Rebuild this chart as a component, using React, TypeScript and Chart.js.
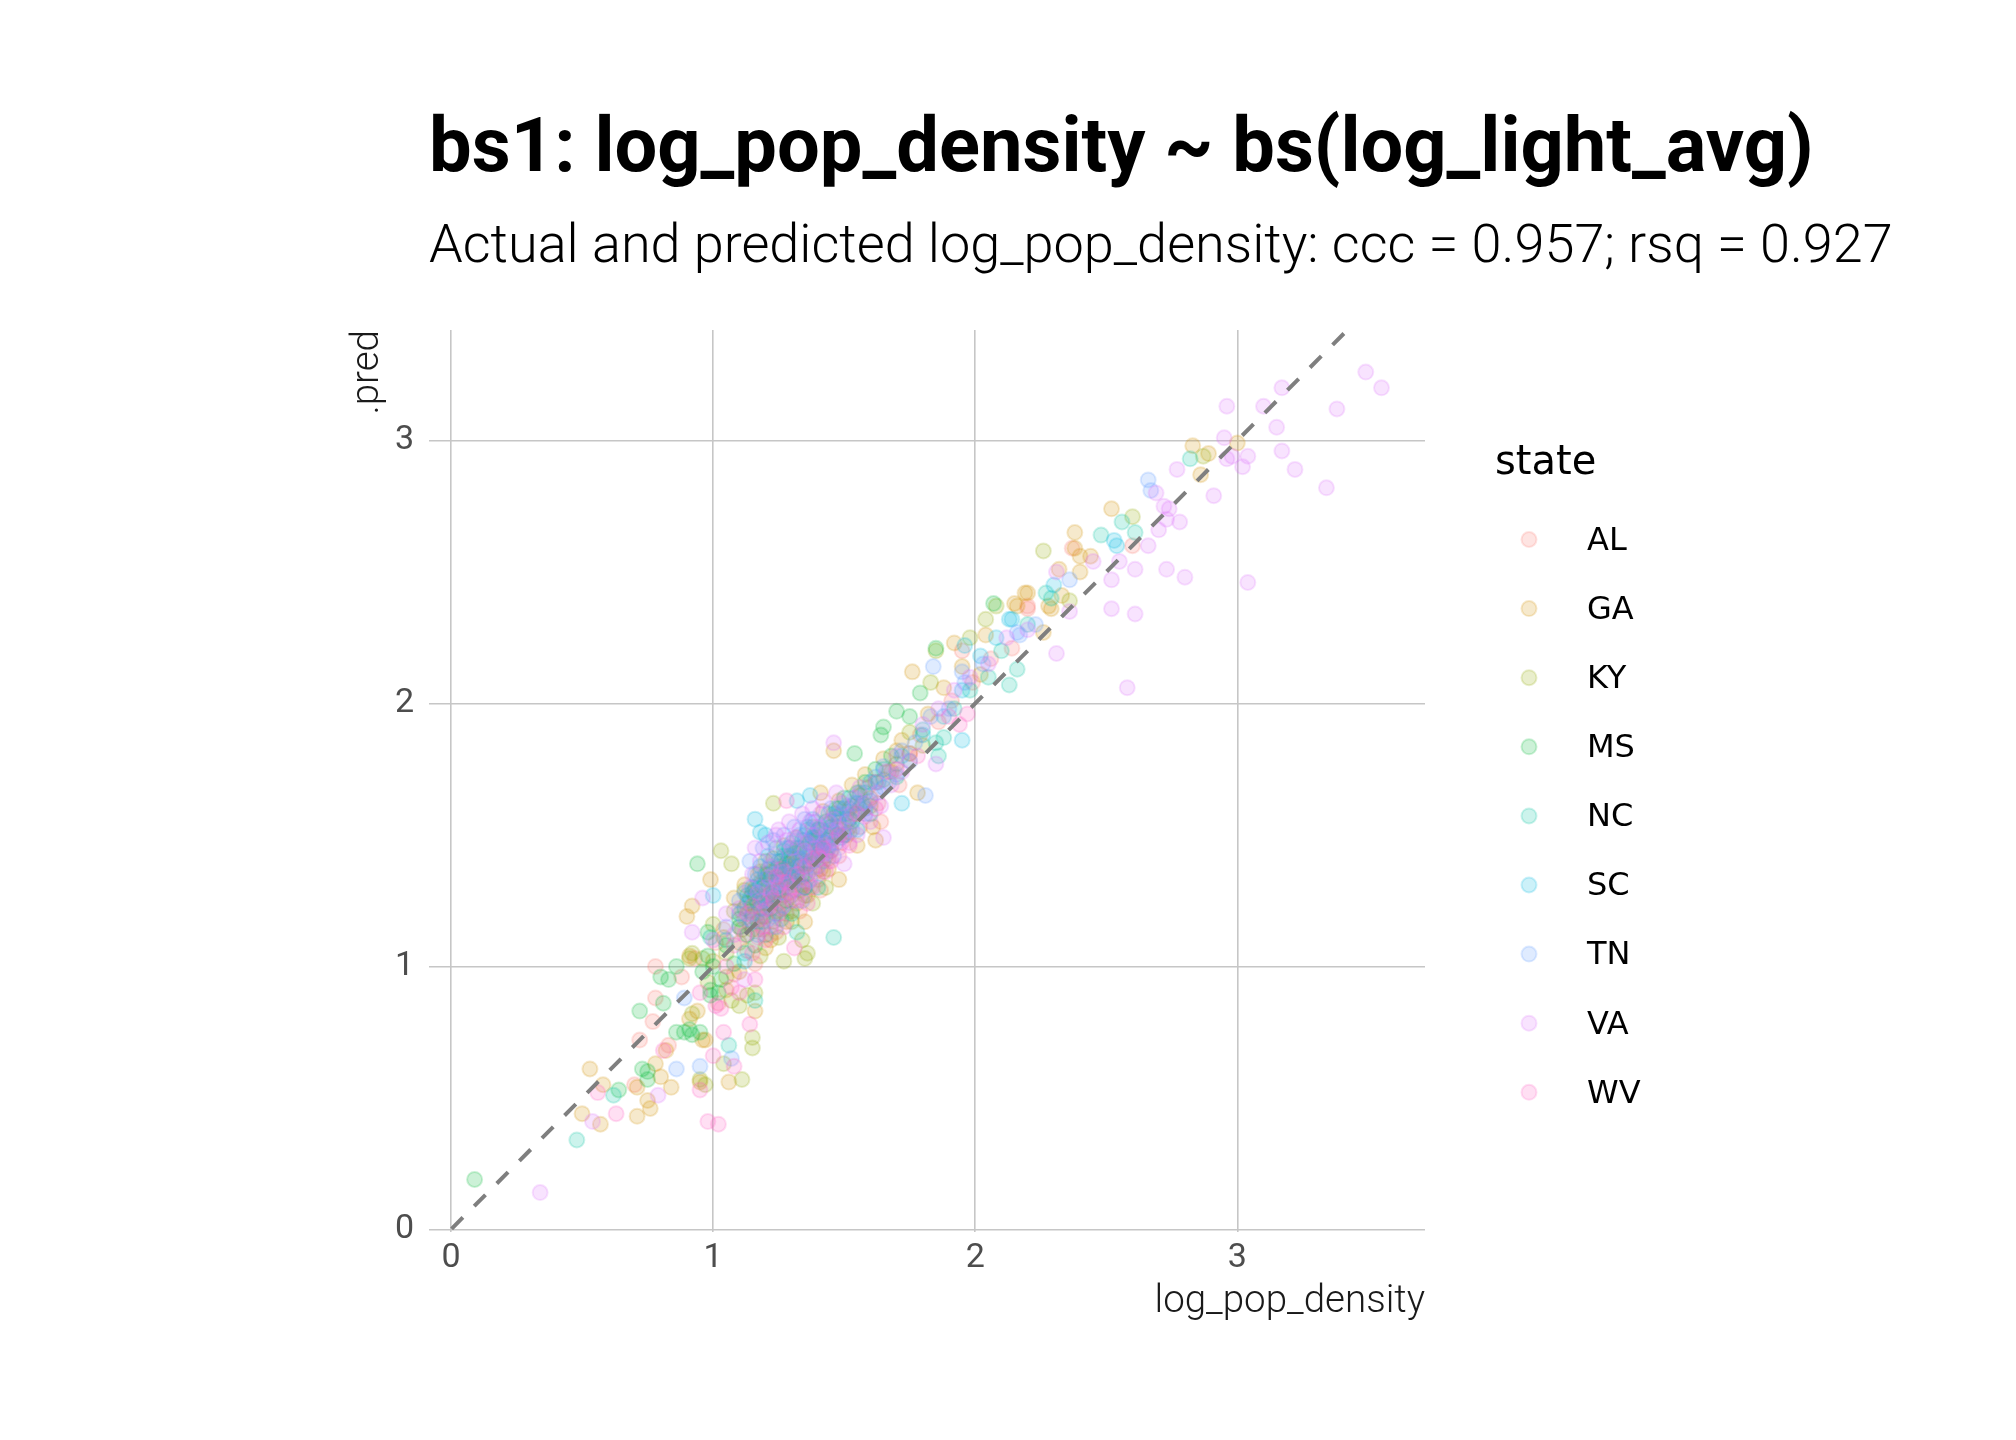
import React, { useEffect, useRef } from "react";
import { Chart, registerables } from "chart.js";

Chart.register(...registerables);

// ---------------- data ----------------
const titleText = "bs1: log_pop_density ~ bs(log_light_avg)";
const subtitleText = "Actual and predicted log_pop_density: ccc = 0.957; rsq = 0.927";
const xAxisTitle = "log_pop_density";
const yAxisTitle = ".pred";
const legendTitle = "state";

const states = ["AL", "GA", "KY", "MS", "NC", "SC", "TN", "VA", "WV"];
const stateColors = ["#F8766D", "#D39200", "#93AA00", "#00BA38", "#00C19F", "#00B9E3", "#619CFF", "#DB72FB", "#FF61C3"];

const xTicks = [0, 1, 2, 3];
const yTicks = [0, 1, 2, 3];
const xLimits = [-0.084, 3.716];
const yLimits = [-0.01, 3.42];
const refLine = [[-0.084, -0.084], [3.72, 3.72]];

// [actual, predicted]
const alPoints = [
  [0.70, 0.55], [0.83, 0.70], [0.72, 0.72], [0.77, 0.79], [0.78, 0.88], [0.78, 1.00], [1.02, 0.86], [1.95, 2.20],
  [2.20, 2.37], [1.64, 1.55], [2.60, 2.60], [2.37, 2.59], [2.20, 2.36], [2.14, 2.21],
  [0.88, 0.96], [0.93, 1.03], [1.01, 1.09], [1.04, 1.14], [1.08, 0.97], [1.11, 1.21], [1.13, 1.06], [1.16, 1.27],
  [1.19, 1.14], [1.21, 1.31], [1.23, 1.19], [1.26, 1.36], [1.27, 1.27], [1.31, 1.41], [1.34, 1.31], [1.36, 1.47],
  [1.39, 1.36], [1.41, 1.52], [1.44, 1.41], [1.47, 1.57], [1.49, 1.47], [1.53, 1.61], [1.56, 1.53], [1.59, 1.68],
  [1.63, 1.62], [1.67, 1.74], [1.71, 1.69], [1.75, 1.81], [1.79, 1.88], [1.86, 1.93], [1.91, 2.01], [1.99, 2.08],
  [2.06, 2.17], [1.16, 1.01], [1.24, 1.13], [1.33, 1.21], [1.41, 1.29],
  [1.14, 1.16], [1.18, 1.24], [1.22, 1.12], [1.29, 1.33], [1.33, 1.44], [1.37, 1.30], [1.42, 1.47], [1.48, 1.42],
  [1.52, 1.53], [1.26, 1.26],
  [1.17, 1.20], [1.21, 1.35], [1.25, 1.28], [1.30, 1.37], [1.35, 1.40], [1.40, 1.33], [1.45, 1.46], [1.28, 1.20],
];
const gaPoints = [
  [0.50, 0.44], [0.57, 0.40], [0.53, 0.61], [0.58, 0.55], [0.71, 0.43], [0.71, 0.54], [0.76, 0.46], [0.75, 0.49],
  [0.78, 0.63], [0.80, 0.58], [0.82, 0.68], [0.84, 0.54], [0.91, 0.80], [0.96, 0.72], [0.94, 0.83], [0.91, 1.04],
  [0.95, 0.56], [1.06, 0.56], [1.16, 0.83], [0.99, 1.33], [0.92, 1.23], [0.90, 1.19], [0.97, 0.72], [1.35, 1.17],
  [1.41, 1.66], [1.78, 1.66], [1.48, 1.33], [1.62, 1.48], [1.76, 2.12], [1.92, 2.23], [2.04, 2.26], [2.15, 2.38],
  [2.19, 2.42], [2.28, 2.37], [1.46, 1.82], [1.61, 1.53], [3.00, 2.99], [2.83, 2.98], [2.89, 2.95], [2.86, 2.87],
  [2.52, 2.74], [2.38, 2.65], [2.38, 2.59], [2.40, 2.56], [2.44, 2.56], [2.32, 2.51], [2.40, 2.50], [2.33, 2.41],
  [2.20, 2.42], [2.16, 2.37], [2.29, 2.36], [2.26, 2.27],
  [1.00, 1.02], [1.04, 1.11], [1.08, 1.26], [1.10, 1.15], [1.12, 1.31], [1.15, 1.19], [1.18, 1.36], [1.20, 1.24],
  [1.23, 1.41], [1.25, 1.29], [1.27, 1.46], [1.30, 1.34], [1.32, 1.49], [1.35, 1.39], [1.38, 1.53], [1.40, 1.44],
  [1.42, 1.59], [1.45, 1.49], [1.48, 1.63], [1.50, 1.54], [1.53, 1.69], [1.55, 1.59], [1.58, 1.73], [1.60, 1.64],
  [1.65, 1.79], [1.68, 1.74], [1.72, 1.86], [1.75, 1.81], [1.82, 1.96], [1.88, 2.06], [1.95, 2.14], [2.02, 2.11],
  [1.20, 1.07], [1.28, 1.17], [1.36, 1.27], [1.44, 1.37], [1.55, 1.46], [1.10, 0.98], [1.05, 0.91],
  [1.13, 1.24], [1.17, 1.14], [1.21, 1.33], [1.24, 1.21], [1.29, 1.39], [1.33, 1.29], [1.37, 1.47], [1.41, 1.37],
  [1.46, 1.58], [1.51, 1.50], [1.57, 1.62], [1.62, 1.70], [1.70, 1.82], [1.22, 1.10], [1.32, 1.24],
  [1.16, 1.30], [1.19, 1.19], [1.26, 1.33], [1.31, 1.43], [1.34, 1.34], [1.39, 1.48], [1.43, 1.42], [1.47, 1.53],
  [1.52, 1.60], [1.27, 1.22],
];
const kyPoints = [
  [0.92, 0.82], [0.91, 1.03], [0.96, 1.03], [0.95, 0.57], [0.97, 0.55], [1.04, 0.63], [1.11, 0.57], [1.15, 0.73],
  [1.15, 0.69], [1.13, 0.89], [1.07, 0.87], [1.23, 1.62], [1.03, 1.44], [1.07, 1.39], [0.92, 1.05], [1.10, 0.85],
  [1.16, 0.90], [1.35, 1.03], [1.36, 1.05], [1.27, 1.02], [1.34, 1.10], [1.30, 1.17], [1.43, 1.30], [1.85, 2.20],
  [1.83, 2.08], [1.98, 2.25], [2.04, 2.32], [2.08, 2.37], [2.26, 2.58], [2.60, 2.71], [2.36, 2.39], [2.87, 2.94],
  [1.00, 1.16], [1.05, 1.05], [1.08, 1.21], [1.10, 1.09], [1.12, 1.29], [1.15, 1.14], [1.18, 1.31], [1.20, 1.19],
  [1.22, 1.36], [1.25, 1.24], [1.28, 1.39], [1.30, 1.27], [1.33, 1.43], [1.36, 1.35], [1.40, 1.49], [1.45, 1.44],
  [1.48, 1.57], [1.52, 1.51], [1.56, 1.65], [1.60, 1.61], [1.65, 1.71], [1.70, 1.77], [1.75, 1.89], [1.80, 1.84],
  [1.18, 1.04], [1.25, 1.11], [1.30, 1.21], [1.38, 1.24], [0.98, 0.94], [1.05, 0.96],
  [1.14, 1.21], [1.19, 1.26], [1.23, 1.17], [1.27, 1.33], [1.32, 1.36], [1.35, 1.27], [1.39, 1.41], [1.42, 1.36],
  [1.47, 1.50], [1.54, 1.58], [1.11, 1.14], [1.20, 1.40],
  [1.17, 1.35], [1.21, 1.24], [1.26, 1.29], [1.31, 1.31], [1.37, 1.39], [1.41, 1.45], [1.29, 1.42], [1.16, 1.26],
];
const msPoints = [
  [0.09, 0.19], [0.64, 0.53], [0.75, 0.60], [0.75, 0.57], [0.73, 0.61], [0.72, 0.83], [0.81, 0.86], [0.80, 0.96],
  [0.83, 0.95], [0.86, 1.00], [0.86, 0.75], [0.89, 0.75], [0.92, 0.74], [0.99, 0.91], [0.99, 0.89], [0.94, 1.39],
  [0.98, 1.13], [0.98, 1.04], [0.91, 0.76], [0.95, 0.75], [2.07, 2.38], [1.79, 2.04], [1.64, 1.88], [1.65, 1.91],
  [1.70, 1.97], [1.54, 1.81], [1.85, 2.21],
  [1.00, 1.00], [1.03, 0.95], [1.05, 1.08], [1.08, 1.01], [1.10, 1.18], [1.13, 1.12], [1.15, 1.28], [1.18, 1.22],
  [1.20, 1.35], [1.23, 1.28], [1.26, 1.40], [1.30, 1.32], [1.33, 1.45], [1.37, 1.40], [1.40, 1.52], [1.44, 1.48],
  [1.48, 1.60], [1.52, 1.56], [1.58, 1.70], [1.62, 1.75], [1.68, 1.80], [1.75, 1.95], [1.02, 0.90], [0.96, 0.98],
  [1.12, 1.22], [1.17, 1.17], [1.21, 1.27], [1.25, 1.34], [1.28, 1.25], [1.32, 1.38], [1.35, 1.30], [1.39, 1.45],
  [1.43, 1.55], [1.50, 1.64], [1.55, 1.66], [1.16, 1.08],
  [1.14, 1.26], [1.19, 1.30], [1.24, 1.37], [1.29, 1.41], [1.34, 1.35], [1.38, 1.49], [1.45, 1.53], [1.22, 1.22],
];
const ncPoints = [
  [0.48, 0.34], [0.62, 0.51], [1.06, 0.70], [0.99, 1.11], [1.46, 1.11], [1.32, 1.13], [1.16, 0.87], [2.27, 2.42],
  [2.13, 2.07], [1.88, 1.87], [1.86, 1.80], [2.82, 2.93], [2.56, 2.69], [2.61, 2.65], [2.48, 2.64], [2.29, 2.40],
  [2.16, 2.13],
  [1.05, 1.10], [1.10, 1.15], [1.15, 1.20], [1.18, 1.32], [1.22, 1.25], [1.25, 1.38], [1.28, 1.30], [1.32, 1.45],
  [1.35, 1.35], [1.38, 1.48], [1.42, 1.40], [1.45, 1.55], [1.50, 1.50], [1.55, 1.62], [1.60, 1.58], [1.65, 1.75],
  [1.70, 1.72], [1.75, 1.78], [1.80, 1.90], [1.85, 1.85], [1.92, 1.98], [1.98, 2.05], [2.05, 2.10], [2.10, 2.20],
  [2.20, 2.30], [1.12, 1.05], [1.20, 1.12], [1.30, 1.20], [1.40, 1.30],
  [1.13, 1.27], [1.17, 1.24], [1.21, 1.37], [1.24, 1.30], [1.27, 1.42], [1.31, 1.33], [1.34, 1.48], [1.37, 1.42],
  [1.41, 1.53], [1.44, 1.46], [1.47, 1.60], [1.53, 1.55], [1.58, 1.66], [1.63, 1.70], [1.26, 1.18],
  [1.16, 1.29], [1.20, 1.33], [1.24, 1.45], [1.28, 1.37], [1.33, 1.41], [1.36, 1.52], [1.40, 1.47], [1.46, 1.51],
  [1.51, 1.58], [1.56, 1.60], [1.29, 1.45], [1.19, 1.17],
];
const scPoints = [
  [1.32, 1.63], [1.37, 1.65], [1.16, 1.56], [1.18, 1.51], [1.20, 1.50], [1.00, 1.27], [1.72, 1.62], [1.96, 2.22],
  [2.13, 2.32], [1.95, 1.86], [2.53, 2.62], [2.54, 2.60], [2.30, 2.45], [2.14, 2.32],
  [1.10, 1.20], [1.15, 1.30], [1.20, 1.25], [1.25, 1.40], [1.30, 1.35], [1.35, 1.50], [1.40, 1.42], [1.45, 1.52],
  [1.50, 1.60], [1.55, 1.52], [1.60, 1.70], [1.65, 1.68], [1.72, 1.80], [1.80, 1.88], [1.88, 1.95], [1.95, 2.05],
  [2.02, 2.18], [2.08, 2.25], [1.12, 1.02],
  [1.14, 1.25], [1.22, 1.33], [1.27, 1.44], [1.33, 1.38], [1.38, 1.56], [1.43, 1.47], [1.48, 1.55], [1.52, 1.64],
  [1.58, 1.60], [1.24, 1.20], [1.35, 1.30], [1.18, 1.38],
  [1.17, 1.33], [1.21, 1.42], [1.26, 1.35], [1.30, 1.47], [1.34, 1.42], [1.39, 1.49], [1.44, 1.58], [1.49, 1.49],
  [1.29, 1.38], [1.41, 1.45], [1.23, 1.27], [1.36, 1.53],
];
const tnPoints = [
  [0.86, 0.61], [0.89, 0.88], [0.95, 0.62], [1.07, 0.65], [1.81, 1.65], [1.84, 2.14], [2.17, 2.26], [2.66, 2.85],
  [2.67, 2.81], [2.36, 2.47], [2.16, 2.27], [2.23, 2.30],
  [1.05, 1.15], [1.10, 1.25], [1.14, 1.18], [1.18, 1.30], [1.20, 1.22], [1.23, 1.35], [1.26, 1.28], [1.29, 1.42],
  [1.32, 1.35], [1.35, 1.48], [1.38, 1.40], [1.41, 1.52], [1.44, 1.45], [1.47, 1.58], [1.50, 1.50], [1.54, 1.62],
  [1.58, 1.58], [1.62, 1.72], [1.67, 1.70], [1.72, 1.82], [1.77, 1.85], [1.83, 1.95], [1.90, 1.98], [1.96, 2.08],
  [2.03, 2.15], [1.95, 2.12], [1.24, 1.15], [1.34, 1.25],
  [1.12, 1.28], [1.16, 1.35], [1.19, 1.26], [1.22, 1.40], [1.25, 1.32], [1.28, 1.45], [1.30, 1.36], [1.33, 1.50],
  [1.36, 1.42], [1.39, 1.55], [1.42, 1.47], [1.45, 1.60], [1.48, 1.53], [1.52, 1.57], [1.56, 1.66], [1.60, 1.63],
  [1.65, 1.76], [1.70, 1.73], [1.21, 1.18], [1.27, 1.23], [1.31, 1.29], [1.37, 1.33], [1.40, 1.38], [1.17, 1.12],
  [1.46, 1.42],
  [1.14, 1.40], [1.19, 1.45], [1.23, 1.48], [1.27, 1.50], [1.31, 1.53], [1.35, 1.56], [1.38, 1.46], [1.41, 1.44],
  [1.44, 1.52], [1.49, 1.58], [1.53, 1.52], [1.57, 1.62], [1.62, 1.66], [1.26, 1.36], [1.29, 1.32], [1.33, 1.41],
  [1.36, 1.38], [1.39, 1.50], [1.43, 1.43], [1.23, 1.30], [1.18, 1.22], [1.15, 1.17], [1.47, 1.47], [1.51, 1.61],
  [1.34, 1.44],
];
const vaPoints = [
  [0.34, 0.14], [0.54, 0.41], [0.79, 0.51], [0.96, 1.26], [0.92, 1.13], [1.24, 1.50], [1.50, 1.39], [1.65, 1.49],
  [1.46, 1.85], [1.85, 1.77], [2.36, 2.35], [2.31, 2.19], [2.58, 2.06], [2.96, 3.13], [3.10, 3.13], [3.17, 3.20],
  [3.15, 3.05], [3.17, 2.96], [3.22, 2.89], [2.95, 3.01], [2.96, 2.93], [2.98, 2.94], [3.04, 2.94], [3.02, 2.90],
  [2.77, 2.89], [2.91, 2.79], [2.69, 2.80], [2.72, 2.75], [2.74, 2.74], [2.73, 2.70], [2.78, 2.69], [2.70, 2.66],
  [2.66, 2.60], [2.61, 2.51], [2.73, 2.51], [2.80, 2.48], [3.04, 2.46], [2.55, 2.54], [2.52, 2.47], [2.52, 2.36],
  [2.61, 2.34], [2.45, 2.54], [2.31, 2.50], [3.49, 3.26], [3.55, 3.20], [3.38, 3.12], [3.34, 2.82],
  [1.00, 1.10], [1.05, 1.20], [1.10, 1.22], [1.14, 1.30], [1.18, 1.25], [1.22, 1.38], [1.26, 1.32], [1.30, 1.45],
  [1.34, 1.38], [1.38, 1.50], [1.42, 1.46], [1.46, 1.56], [1.50, 1.52], [1.54, 1.64], [1.58, 1.62], [1.62, 1.70],
  [1.66, 1.74], [1.70, 1.80], [1.75, 1.78], [1.80, 1.92], [1.86, 1.98], [1.92, 2.05], [1.98, 2.10], [2.05, 2.15],
  [2.12, 2.25], [2.20, 2.28], [1.22, 1.15], [1.32, 1.25], [1.40, 1.35], [1.08, 1.12], [1.12, 0.95],
  [1.15, 1.35], [1.18, 1.40], [1.20, 1.30], [1.24, 1.42], [1.27, 1.36], [1.28, 1.48], [1.31, 1.40], [1.33, 1.52],
  [1.35, 1.44], [1.37, 1.55], [1.39, 1.45], [1.41, 1.58], [1.43, 1.50], [1.45, 1.44], [1.47, 1.52], [1.49, 1.62],
  [1.52, 1.47], [1.53, 1.58], [1.56, 1.68], [1.60, 1.55], [1.63, 1.66], [1.68, 1.69], [1.72, 1.74], [1.26, 1.22],
  [1.30, 1.30], [1.36, 1.32], [1.44, 1.40], [1.12, 1.18], [1.19, 1.21], [1.23, 1.26],
  [1.16, 1.45], [1.21, 1.47], [1.25, 1.52], [1.29, 1.55], [1.34, 1.58], [1.38, 1.60], [1.42, 1.63], [1.47, 1.66],
  [1.29, 1.27], [1.33, 1.33], [1.38, 1.37], [1.41, 1.41], [1.46, 1.48], [1.51, 1.55], [1.55, 1.50], [1.58, 1.57],
  [1.64, 1.61], [1.25, 1.30], [1.21, 1.34], [1.17, 1.28], [1.36, 1.47], [1.40, 1.53], [1.44, 1.55], [1.48, 1.45],
  [1.31, 1.49],
];
const wvPoints = [
  [0.56, 0.52], [0.63, 0.44], [0.81, 0.68], [0.95, 0.53], [0.98, 0.41], [1.02, 0.40], [1.00, 0.66], [1.08, 0.62],
  [1.14, 0.78], [1.04, 0.75], [1.03, 0.84], [1.28, 1.63], [1.31, 1.07], [1.01, 0.85], [1.16, 0.95], [1.07, 0.92],
  [1.97, 1.96], [1.94, 1.92],
  [1.05, 1.00], [1.08, 1.08], [1.12, 1.12], [1.15, 1.05], [1.18, 1.18], [1.20, 1.10], [1.22, 1.28], [1.25, 1.20],
  [1.28, 1.32], [1.30, 1.25], [1.35, 1.38], [1.38, 1.30], [1.42, 1.45], [1.48, 1.50], [1.55, 1.58], [1.62, 1.60],
  [1.70, 1.75], [1.78, 1.80], [1.90, 1.95], [1.10, 0.90], [0.95, 0.90],
  [1.13, 1.20], [1.17, 1.11], [1.21, 1.22], [1.24, 1.34], [1.27, 1.15], [1.32, 1.35], [1.36, 1.24], [1.40, 1.42],
  [1.45, 1.40], [1.52, 1.46],
  [1.15, 1.23], [1.19, 1.15], [1.23, 1.25], [1.29, 1.28], [1.34, 1.30], [1.38, 1.41], [1.43, 1.36], [1.26, 1.37],
];

const statePoints = [alPoints, gaPoints, kyPoints, msPoints, ncPoints, scPoints, tnPoints, vaPoints, wvPoints];

// ---------------- style helpers ----------------
const POINT_ALPHA = 0.2;
const POINT_RADIUS = 7.5;
const POINT_BORDER = 2;

function rgba(hex: string, a: number) {
  const n = parseInt(hex.slice(1), 16);
  return `rgba(${(n >> 16) & 255}, ${(n >> 8) & 255}, ${n & 255}, ${a})`;
}

function fitSize(ctx: CanvasRenderingContext2D, text: string, weight: string, family: string, target: number) {
  ctx.font = `${weight} 100px ${family}`;
  const w = ctx.measureText(text).width;
  return (100 * target) / w;
}

const ggTextPlugin = {
  id: "ggText",
  afterDraw(chart: any) {
    const ctx: CanvasRenderingContext2D = chart.ctx;
    ctx.save();
    ctx.textAlign = "left";
    ctx.textBaseline = "alphabetic";
    ctx.fillStyle = "#000000";
    // title
    const ts = fitSize(ctx, titleText, "700", "Roboto", 1385);
    ctx.font = `700 ${ts}px Roboto`;
    ctx.fillText(titleText, 429, 171);
    // subtitle
    const ss = fitSize(ctx, subtitleText, "300", "Roboto", 1464);
    ctx.font = `300 ${ss}px Roboto`;
    ctx.fillText(subtitleText, 429, 262);

    // legend
    ctx.font = `40px "DejaVu Sans"`;
    ctx.textBaseline = "middle";
    ctx.fillStyle = "#000000";
    ctx.fillText(legendTitle, 1495, 464);
    const ds = chart.data.datasets.filter((d: any) => states.includes(d.label));
    ds.forEach((d: any, i: number) => {
      const cy = 539.5 + i * 69.1;
      ctx.beginPath();
      ctx.arc(1529, cy, POINT_RADIUS, 0, Math.PI * 2);
      ctx.fillStyle = d.backgroundColor;
      ctx.fill();
      ctx.lineWidth = POINT_BORDER;
      ctx.strokeStyle = d.borderColor;
      ctx.stroke();
      ctx.fillStyle = "#000000";
      ctx.font = `32px "DejaVu Sans"`;
      ctx.fillText(d.label, 1587, cy + 2);
    });
    ctx.restore();
  },
};

export default function App() {
  const canvasRef = useRef<HTMLCanvasElement | null>(null);

  useEffect(() => {
    const canvas = canvasRef.current;
    if (!canvas) return;

    // Chart.js paints lower "order" last (on top); ggplot paints rows in order,
    // so later states (VA, WV) sit on top.
    const scatterSets = states.map((s, i) => ({
      type: "scatter" as const,
      label: s,
      data: statePoints[i].map((p) => ({ x: p[0], y: p[1] })),
      backgroundColor: rgba(stateColors[i], POINT_ALPHA),
      borderColor: rgba(stateColors[i], POINT_ALPHA),
      borderWidth: POINT_BORDER,
      pointRadius: POINT_RADIUS,
      pointHoverRadius: POINT_RADIUS,
      order: states.length - i,
    }));

    const lineSet = {
      type: "line" as const,
      label: "identity",
      data: refLine.map((p) => ({ x: p[0], y: p[1] })),
      borderColor: "#7F7F7F",
      borderWidth: 4,
      borderDash: [16, 16],
      borderCapStyle: "butt" as const,
      pointRadius: 0,
      fill: false,
      order: 0,
    };

    const chart = new Chart(canvas, {
      type: "scatter",
      data: { datasets: [...scatterSets, lineSet] as any },
      options: {
        responsive: false,
        animation: false,
        devicePixelRatio: 1,
        layout: { padding: { left: 340, top: 330, right: 591, bottom: 98 } },
        plugins: {
          legend: { display: false },
          title: { display: false },
          tooltip: { enabled: false },
        },
        scales: {
          x: {
            type: "linear",
            min: xLimits[0],
            max: xLimits[1],
            afterBuildTicks: (s: any) => {
              s.ticks = xTicks.map((v) => ({ value: v }));
            },
            afterFit: (s: any) => {
              s.height = 110;
            },
            grid: { color: "#C6C6C6", lineWidth: 1.6, drawTicks: false },
            border: { display: false },
            ticks: {
              padding: 6,
              color: "#4D4D4D",
              font: { family: "Roboto", size: 34 },
              callback: (v: any) => String(v),
              maxRotation: 0,
            },
            title: {
              display: true,
              text: xAxisTitle,
              align: "end",
              color: "#1A1A1A",
              font: { family: "Roboto", size: 38.5, weight: "300" as any },
              padding: { top: 0, bottom: 17 },
            },
          },
          y: {
            type: "linear",
            min: yLimits[0],
            max: yLimits[1],
            afterBuildTicks: (s: any) => {
              s.ticks = yTicks.map((v) => ({ value: v }));
            },
            afterFit: (s: any) => {
              s.width = 89;
            },
            grid: { color: "#C6C6C6", lineWidth: 1.6, drawTicks: false },
            border: { display: false },
            ticks: {
              padding: 15,
              color: "#4D4D4D",
              font: { family: "Roboto", size: 34 },
              callback: (v: any) => String(v),
            },
            title: {
              display: true,
              text: yAxisTitle,
              align: "end",
              color: "#1A1A1A",
              font: { family: "Roboto", size: 38.5, weight: "300" as any },
              padding: { top: 5, bottom: 0 },
            },
          },
        },
      },
      plugins: [ggTextPlugin],
    });

    return () => chart.destroy();
  }, []);

  return (
    <div style={{ position: "absolute", left: 0, top: 0, width: 2016, height: 1440, background: "#FFFFFF" }}>
      <canvas ref={canvasRef} width={2016} height={1440} style={{ display: "block", width: 2016, height: 1440 }} />
    </div>
  );
}
